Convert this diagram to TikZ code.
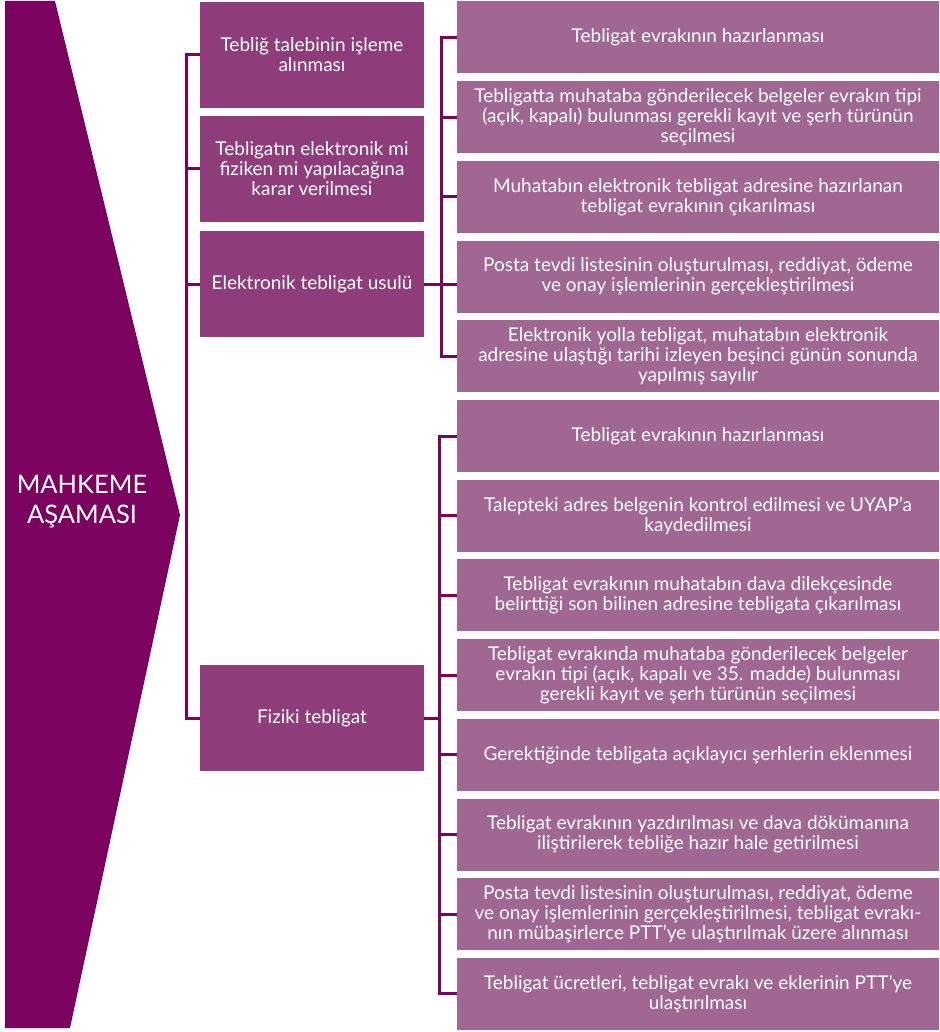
\documentclass[tikz,border=0pt]{standalone}
\usepackage{fontspec}
\setmainfont{Lato}
\definecolor{stage}{HTML}{7B035F}
\definecolor{midfill}{HTML}{8E3D7A}
\definecolor{stepfill}{HTML}{A06792}
\definecolor{linkcol}{HTML}{7B035F}
\begin{document}
\begin{tikzpicture}[x=1pt,y=-1pt,
  midbox/.style={rectangle, fill=midfill, text=white, minimum width=224pt, minimum height=106pt,
    inner sep=0pt, align=center, font=\fontsize{19}{20}\selectfont},
  stepbox/.style={rectangle, fill=stepfill, text=white, minimum width=482pt, minimum height=72pt,
    inner sep=0pt, align=center, font=\fontsize{19}{20}\selectfont},
  link/.style={draw=linkcol, line width=3pt},
  stagetext/.style={text=white, align=center, font=\fontsize{25.5}{30}\selectfont}]
\useasboundingbox (0,0) rectangle (939,1032);

% stage arrow
\fill[stage] (5,1) -- (55,1) -- (180,515) -- (70,1028) -- (5,1028) -- cycle;
\node[stagetext] (stage) at (82,502) {MAHKEME\\AŞAMASI};

% middle column
\node[midbox] (m1) at (312,55) {Tebliğ talebinin işleme\\alınması};
\node[midbox] (m2) at (312,169) {Tebligatın elektronik mi\\fiziken mi yapılacağına\\karar verilmesi};
\node[midbox] (m3) at (312,284) {Elektronik tebligat usulü};
\node[midbox] (m4) at (312,718) {Fiziki tebligat};

% right column
\node[stepbox] (r1) at (698,37.5) {Tebligat evrakının hazırlanması};
\node[stepbox] (r2) at (698,117.2) {Tebligatta muhataba gönderilecek belgeler evrakın tipi\\(açık, kapalı) bulunması gerekli kayıt ve şerh türünün\\seçilmesi};
\node[stepbox] (r3) at (698,196.9) {Muhatabın elektronik tebligat adresine hazırlanan\\tebligat evrakının çıkarılması};
\node[stepbox] (r4) at (698,276.6) {Posta tevdi listesinin oluşturulması, reddiyat, ödeme\\ve onay işlemlerinin gerçekleştirilmesi};
\node[stepbox] (r5) at (698,356.3) {Elektronik yolla tebligat, muhatabın elektronik\\adresine ulaştığı tarihi izleyen beşinci günün sonunda\\yapılmış sayılır};
\node[stepbox] (r6) at (698,436) {Tebligat evrakının hazırlanması};
\node[stepbox] (r7) at (698,515.7) {Talepteki adres belgenin kontrol edilmesi ve UYAP’a\\kaydedilmesi};
\node[stepbox] (r8) at (698,595.4) {Tebligat evrakının muhatabın dava dilekçesinde\\belirttiği son bilinen adresine tebligata çıkarılması};
\node[stepbox] (r9) at (698,675.1) {Tebligat evrakında muhataba gönderilecek belgeler\\evrakın tipi (açık, kapalı ve 35. madde) bulunması\\gerekli kayıt ve şerh türünün seçilmesi};
\node[stepbox] (r10) at (698,754.8) {Gerektiğinde tebligata açıklayıcı şerhlerin eklenmesi};
\node[stepbox] (r11) at (698,834.5) {Tebligat evrakının yazdırılması ve dava dökümanına\\iliştirilerek tebliğe hazır hale getirilmesi};
\node[stepbox] (r12) at (698,914.2) {Posta tevdi listesinin oluşturulması, reddiyat, ödeme\\ve onay işlemlerinin gerçekleştirilmesi, tebligat evrakı-\\nın mübaşirlerce PTT’ye ulaştırılmak üzere alınması};
\node[stepbox] (r13) at (698,993.9) {Tebligat ücretleri, tebligat evrakı ve eklerinin PTT’ye\\ulaştırılması};

% trunk positions
\coordinate (tl) at (186,0);
\coordinate (ta) at (441,0);
\coordinate (tb) at (439,0);

% connectors: stage level to middle column
\draw[link] (m1.west) -- (m1.west -| tl) -- (m4.west -| tl) -- (m4.west);
\draw[link] (m2.west) -- (m2.west -| tl);
\draw[link] (m3.west) -- (m3.west -| tl);

% connectors: electronic branch
\draw[link] (r1.west) -- (r1.west -| ta) -- (r5.west -| ta) -- (r5.west);
\draw[link] (r2.west) -- (r2.west -| ta);
\draw[link] (r3.west) -- (r3.west -| ta);
\draw[link] (m3.east) -- (m3.east -| r4.west);

% connectors: physical branch
\draw[link] (r6.west) -- (r6.west -| tb) -- (r13.west -| tb) -- (r13.west);
\foreach \k in {7,...,12} {\draw[link] (r\k.west) -- (r\k.west -| tb);}
\draw[link] (m4.east) -- (m4.east -| tb);
\end{tikzpicture}
\end{document}
